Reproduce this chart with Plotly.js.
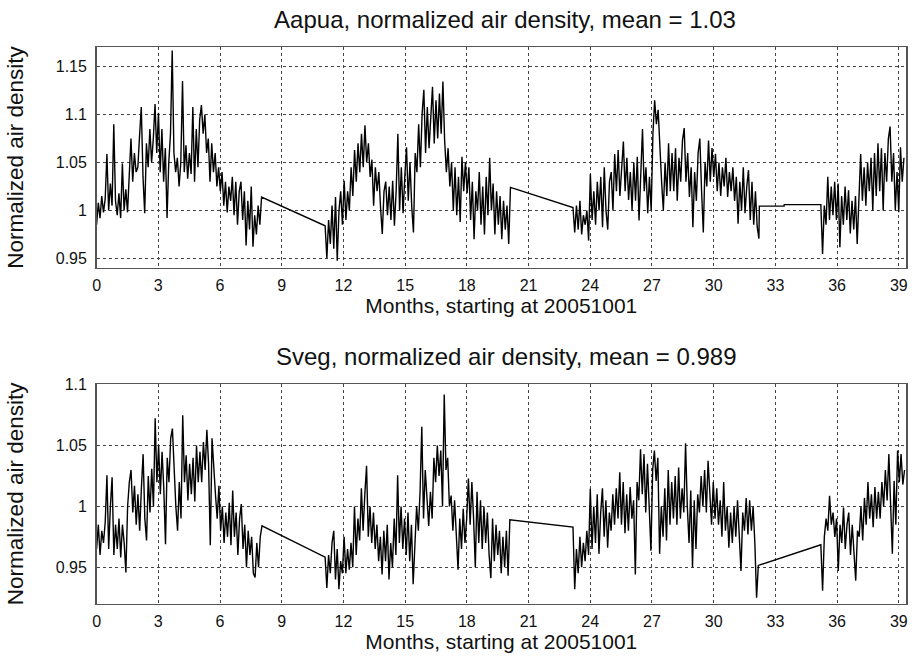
<!DOCTYPE html>
<html>
<head>
<meta charset="utf-8">
<script src="https://cdn.plot.ly/plotly-3.0.1.min.js"></script>
<style>html,body{margin:0;padding:0;background:#fff;}#chart{width:912px;height:664px;}</style>
</head>
<body>
<div id="chart"></div>
<script>
// ---------------- DATA ----------------
// Month ticks shared by both panels
const monthTicks = [0,3,6,9,12,15,18,21,24,27,30,33,36,39];

// Aapua: normalized air density, sampled evenly inside each recorded span (months)
const aapuaSpan1 = [0, 8.02];
const aapuaSeg1 = [
 0.985,1.008,0.992,1.015,0.998,1.012,1.059,1.0,1.028,1.005,1.09,1.01,
 0.995,1.018,0.992,1.049,1.0,1.022,0.998,1.035,1.075,1.03,1.06,1.04,
 1.045,1.078,1.108,1.035,0.997,1.07,1.045,1.085,1.05,1.075,1.111,1.06,
 1.102,1.04,1.085,1.03,1.065,0.992,1.05,1.08,1.167,1.06,1.04,1.055,
 1.025,1.05,1.135,1.04,1.068,1.033,1.06,1.038,1.108,1.03,1.085,1.045,
 1.095,1.11,1.08,1.1,1.06,1.075,1.03,1.07,1.04,1.06,1.025,1.045,
 1.02,1.04,1.005,1.03,0.998,1.025,1.01,1.035,0.995,1.03,0.985,1.02,
 1.03,0.99,1.02,0.9635,1.01,0.98,1.025,0.962,0.995,0.975,1.005,0.985,1.014];
const aapuaSpan2 = [11.11, 20.12];
const aapuaSeg2 = [
 0.984,0.95,0.99,0.965,1.005,0.96,1.014,0.9475,1.0,1.02,0.985,
 1.031,0.99,1.02,1.0,1.045,1.015,1.063,1.03,1.07,1.04,1.08,1.045,
 1.089,1.05,1.07,1.035,1.053,1.005,1.045,1.02,1.04,1.003,0.9755,1.02,
 1.03,0.995,1.025,0.99,1.031,0.984,1.02,1.08,1.0,1.045,0.997,1.035,
 1.066,1.01,1.05,1.004,0.977,1.06,1.04,1.09,1.045,1.101,1.126,1.06,
 1.108,1.065,1.1,1.129,1.07,1.115,1.075,1.122,1.08,1.1346,1.073,1.04,
 1.065,1.025,1.05,1.0,1.045,0.995,1.035,0.988,1.056,1.02,1.05,1.018,
 1.045,0.99,1.03,0.97,1.02,1.0,1.04,0.985,1.025,0.975,1.035,0.995,
 1.055,1.0,1.028,0.975,1.02,0.985,1.015,0.97,1.01,0.98,1.005,0.965,1.024];
const aapuaSpan3 = [23.16, 32.2];
const aapuaSeg3 = [
 1.003,0.977,1.005,0.98,1.01,0.975,0.995,0.985,1.0,0.9685,
 1.038,0.99,1.02,0.985,1.03,1.0,1.035,0.9825,1.045,1.0,0.98,1.03,
 1.04,1.0,1.059,1.02,1.063,1.015,1.05,1.072,1.02,1.055,1.011,1.04,
 1.0,1.05,1.01,1.056,0.9895,1.04,1.085,1.02,1.045,0.997,1.035,1.0,
 1.08,1.115,1.09,1.105,1.06,1.03,1.0,1.05,1.015,1.07,1.02,1.06,
 1.02,1.065,1.01,1.055,1.03,1.073,1.086,1.03,1.06,1.014,1.045,0.9825,
 1.04,1.01,1.06,1.075,1.02,0.977,1.05,1.025,1.073,1.03,1.065,1.035,
 1.059,1.02,1.05,1.015,1.045,1.025,1.055,1.014,1.04,1.02,1.045,1.01,
 1.035,0.986,1.03,1.0,1.045,0.997,1.025,1.042,0.99,1.03,0.985,1.02,0.983,0.9705];
const aapuaSpan4 = [32.22, 33.42];
const aapuaSeg4 = [1.0045, 1.0045];
const aapuaSpan5 = [33.43, 35.2];
const aapuaSeg5 = [1.006, 1.006];
const aapuaSpan6 = [35.21, 39.25];
const aapuaSeg6 = [
 1.006,0.9545,1.005,0.985,1.035,0.99,1.025,0.995,1.03,0.99,
 1.028,0.9615,1.015,0.985,1.025,0.99,1.021,0.976,1.01,0.98,1.015,0.965,
 1.005,1.059,1.01,1.045,1.005,1.05,1.02,1.055,1.0,1.06,1.015,1.07,
 1.02,1.065,1.0,1.06,1.03,1.075,1.0875,1.03,1.06,1.0,1.04,0.998,1.066,1.03,1.055];

// Sveg: normalized air density
const svegSpan1 = [0, 8.04];
const svegSeg1 = [
 0.965,0.985,0.96,0.98,0.97,0.987,1.0256,0.965,1.0,1.024,0.96,0.985,
 0.965,0.99,0.958,0.985,0.97,0.9457,1.0,1.02,1.03,0.995,1.017,0.985,
 1.01,0.98,1.015,1.043,0.99,0.972,1.025,0.995,1.031,1.0,1.0725,1.02,
 1.05,1.01,1.045,1.015,0.969,1.04,1.02,1.056,1.064,1.025,1.0,0.98,
 1.02,0.99,1.075,1.02,1.042,1.005,1.035,1.01,1.04,1.004,1.05,1.02,
 1.045,1.02,1.053,1.03,1.063,1.035,0.968,1.056,1.03,1.01,0.99,1.017,
 0.98,1.0,0.97,0.995,0.975,1.003,0.968,1.013,0.975,0.995,0.96,0.99,
 1.002,0.965,0.985,0.95,0.98,0.96,0.975,0.945,0.9416,0.97,0.95,0.975,0.984];
const svegSpan2 = [11.11, 20.09];
const svegSeg2 = [
 0.9583,0.933,0.96,0.945,0.97,0.98,0.94,0.965,0.932,0.955,0.945,
 0.975,0.945,0.965,0.948,0.97,0.95,1.0,0.96,0.99,0.972,1.015,0.98,
 1.01,1.0334,0.975,1.0,0.97,0.995,0.965,0.985,0.955,0.975,0.944,0.98,
 0.955,0.985,0.94,0.97,0.95,0.99,0.96,1.0256,0.97,1.0,0.965,0.99,
 0.96,0.995,0.955,0.985,0.936,0.97,1.0,0.98,1.012,1.0656,0.99,1.03,
 1.005,0.984,1.012,0.99,1.04,1.02,1.05,1.025,1.046,1.0,1.092,1.03,
 1.04,1.0,1.009,0.98,1.005,0.976,0.948,0.99,0.965,0.998,0.97,0.99,
 1.023,0.985,1.02,0.99,0.95,1.012,0.97,1.005,0.965,1.0,0.97,0.995,
 0.96,0.941,0.99,0.955,0.985,0.96,0.98,0.945,0.975,0.95,0.98,0.943,0.989];
const svegSpan3 = [23.16, 32.17];
const svegSeg3 = [
 0.983,0.932,0.965,0.945,0.975,0.95,0.97,0.955,0.98,0.96,
 1.0146,0.965,1.0,0.97,1.01,0.961,0.995,1.015,0.975,1.005,0.966,0.995,
 0.98,1.01,0.985,1.015,0.99,1.028,0.985,1.02,0.978,1.01,0.98,1.016,
 0.99,1.005,0.944,1.02,1.005,1.047,1.01,1.043,0.995,1.035,1.0,0.9636,
 1.03,1.046,1.021,1.04,0.961,1.0,0.975,1.015,0.972,1.03,0.985,1.02,
 0.99,1.025,0.985,1.032,0.99,1.015,0.995,1.052,1.0,0.97,1.013,0.95,
 1.005,0.965,1.01,0.995,1.025,1.0,1.03,0.995,1.0375,1.01,0.985,1.02,
 0.99,1.015,0.985,1.005,0.975,1.02,0.98,1.0,0.966,0.995,0.97,1.0,
 0.975,1.005,0.97,0.947,0.995,0.98,1.007,0.977,1.005,0.98,1.0,0.97,0.925,0.9515];
const svegSpan4 = [35.21, 39.28];
const svegSeg4 = [
 0.9685,0.9307,0.975,0.99,0.98,1.0088,0.985,0.995,0.975,0.99,
 0.947,0.985,0.97,0.999,0.965,0.985,0.995,0.96,0.985,0.958,0.939,0.98,
 0.975,1.0,0.972,1.007,0.985,1.02,0.99,1.01,0.983,1.016,0.99,1.012,
 0.99,1.02,1.0,1.03,1.005,1.043,1.0,0.961,1.021,0.985,1.046,1.02,1.043,1.018,1.03];

const titleTop = 'Aapua, normalized air density, mean = 1.03';
const titleBottom = 'Sveg, normalized air density, mean = 0.989';
const xLabel = 'Months, starting at 20051001';
const yLabel = 'Normalized air density';
const topTicks = [0.95, 1, 1.05, 1.1, 1.15];
const topTickText = ['0.95', '1', '1.05', '1.1', '1.15'];
const bottomTicks = [0.95, 1, 1.05, 1.1];
const bottomTickText = ['0.95', '1', '1.05', '1.1'];

// ---------------- BUILD ----------------
function build(parts) {
  const x = [], y = [];
  parts.forEach(([span, vals]) => {
    const n = vals.length;
    vals.forEach((v, i) => {
      x.push(n > 1 ? span[0] + i * (span[1] - span[0]) / (n - 1) : span[0]);
      y.push(v);
    });
  });
  return {x, y};
}
const aapua = build([[aapuaSpan1, aapuaSeg1], [aapuaSpan2, aapuaSeg2], [aapuaSpan3, aapuaSeg3],
                     [aapuaSpan4, aapuaSeg4], [aapuaSpan5, aapuaSeg5], [aapuaSpan6, aapuaSeg6]]);
const sveg = build([[svegSpan1, svegSeg1], [svegSpan2, svegSeg2], [svegSpan3, svegSeg3], [svegSpan4, svegSeg4]]);

const FONT = 'Liberation Sans, Arial, Helvetica, sans-serif';
const W = 912, H = 664;
const xDom = [96.6 / W, 906 / W];

function xAxis(anchor) {
  return {
    domain: xDom, anchor: anchor, range: [0, 39.35],
    tickvals: monthTicks, ticktext: monthTicks.map(String),
    showgrid: true, gridcolor: '#444', griddash: 'dot', gridwidth: 1,
    zeroline: false, showline: true, mirror: true, linecolor: '#555', linewidth: 1.5,
    ticks: '', tickfont: {family: FONT, size: 16, color: '#111'}, ticklabelstandoff: 3,
    title: {text: xLabel, font: {family: FONT, size: 21, color: '#111'}, standoff: 4}
  };
}
function yAxis(anchor, dom, range, tv, tt) {
  return {
    domain: dom, anchor: anchor, range: range,
    tickvals: tv, ticktext: tt,
    showgrid: true, gridcolor: '#444', griddash: 'dot', gridwidth: 1,
    zeroline: false, showline: true, mirror: true, linecolor: '#555', linewidth: 1.5,
    ticks: '', tickfont: {family: FONT, size: 16, color: '#111'}, ticklabelstandoff: 5,
    title: {text: yLabel, font: {family: FONT, size: 22.5, color: '#111'}, standoff: 26}
  };
}

const traces = [
  {x: aapua.x, y: aapua.y, xaxis: 'x', yaxis: 'y', type: 'scatter', mode: 'lines',
   line: {color: '#000', width: 1.4}, hoverinfo: 'skip'},
  {x: sveg.x, y: sveg.y, xaxis: 'x2', yaxis: 'y2', type: 'scatter', mode: 'lines',
   line: {color: '#000', width: 1.4}, hoverinfo: 'skip'}
];

const layout = {
  width: W, height: H,
  margin: {l: 0, r: 0, t: 0, b: 0},
  paper_bgcolor: '#fff', plot_bgcolor: '#fff',
  showlegend: false,
  font: {family: FONT, color: '#111'},
  title: {text: titleTop, font: {family: FONT, size: 24, color: '#111'},
          x: 505 / W, xanchor: 'center', y: 1 - 20 / H, yanchor: 'middle'},
  xaxis: xAxis('y'),
  yaxis: yAxis('x', [(H - 267.7) / H, (H - 47.3) / H], [0.9402, 1.1703], topTicks, topTickText),
  xaxis2: xAxis('y2'),
  yaxis2: yAxis('x2', [(H - 603.7) / H, (H - 384) / H], [0.920, 1.1007], bottomTicks, bottomTickText),
  annotations: [
    {text: titleBottom, xref: 'paper', yref: 'paper', x: 506 / W, y: (H - 356) / H,
     xanchor: 'center', yanchor: 'middle', showarrow: false,
     font: {family: FONT, size: 24, color: '#111'}}
  ]
};

Plotly.newPlot('chart', traces, layout, {staticPlot: true, displayModeBar: false});
</script>
</body>
</html>
